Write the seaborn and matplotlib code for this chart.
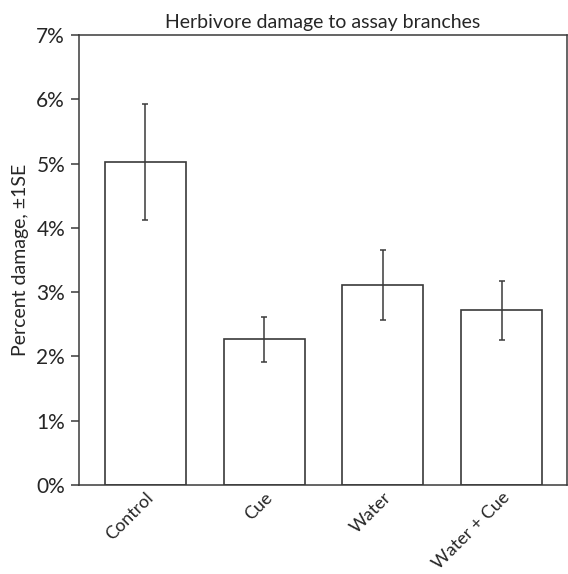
import matplotlib
matplotlib.use("Agg")
import matplotlib.pyplot as plt
import seaborn as sns
import numpy as np
from matplotlib.ticker import FuncFormatter

# Data (percent)
treatments = ["Control", "Cue", "Water", "Water + Cue"]
mean_damage = [5.03, 2.27, 3.11, 2.72]
se_damage = [0.90, 0.35, 0.55, 0.46]

sns.set_style("white")
plt.rcParams["font.family"] = ["Lato", "DejaVu Sans"]

fig = plt.figure(figsize=(5.68, 5.74), dpi=100)
ax = fig.add_axes([0.139, 0.155, 0.859, 0.784])

line_col = "#3a3a3a"
sns.barplot(x=treatments, y=mean_damage, color="white", edgecolor=line_col,
            linewidth=1.2, width=0.68, ax=ax)
ax.errorbar(np.arange(len(treatments)), mean_damage, yerr=se_damage,
            fmt="none", ecolor=line_col, elinewidth=1.1, capsize=2, capthick=1.1)

ax.set_xlim(-0.56, 3.55)
ax.set_ylim(0, 7)
ax.set_yticks(range(0, 8))
ax.yaxis.set_major_formatter(FuncFormatter(lambda v, p: f"{int(v)}%"))

for side in ["left", "right", "top", "bottom"]:
    ax.spines[side].set_visible(True)
    ax.spines[side].set_color(line_col)
    ax.spines[side].set_linewidth(1.1)

ax.tick_params(axis="y", direction="out", length=6, width=1.1, color=line_col,
               labelsize=15, left=True, pad=4)
ax.tick_params(axis="x", length=0, labelsize=13, pad=3)
plt.setp(ax.get_xticklabels(), rotation=45, ha="right", rotation_mode="anchor")

ax.set_title("Herbivore damage to assay branches", fontsize=14, pad=5)
ax.set_ylabel("Percent damage, \u00b11SE", fontsize=14, labelpad=5)
ax.set_xlabel("")

fig.savefig("out.png", dpi=100)
